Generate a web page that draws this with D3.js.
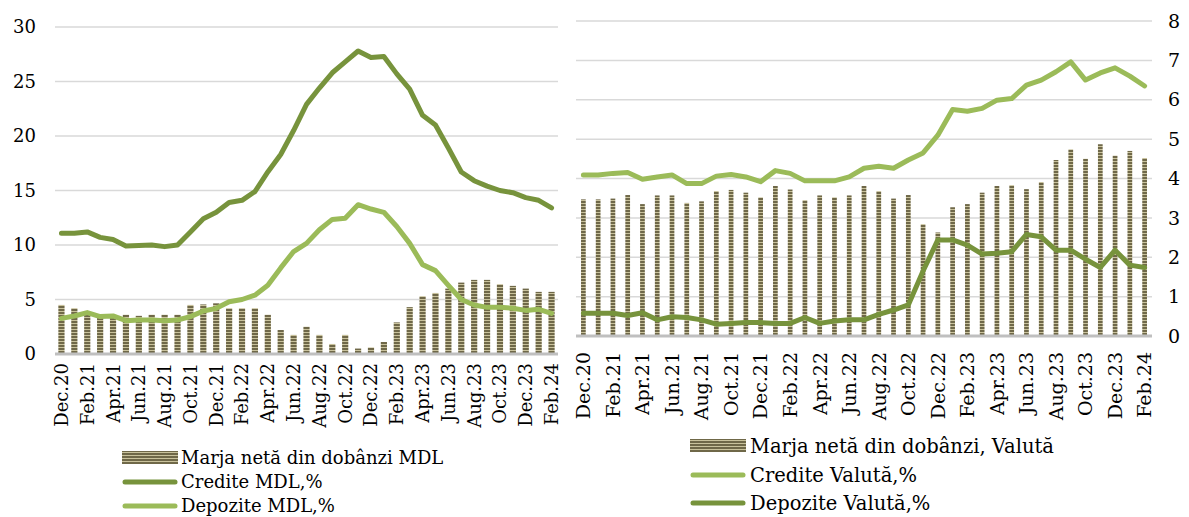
<!DOCTYPE html>
<html><head><meta charset="utf-8">
<script src="https://cdn.jsdelivr.net/npm/d3@7"></script>
<style>body{margin:0;background:#fff}svg{display:block}text{font-family:"DejaVu Serif",serif;fill:#000}</style>
</head><body><svg id="c" width="1189" height="517"></svg>
<script>
const months = ["Dec.20","Jan.21","Feb.21","Mar.21","Apr.21","May.21","Jun.21","Jul.21","Aug.21","Sep.21","Oct.21","Nov.21","Dec.21","Jan.22","Feb.22","Mar.22","Apr.22","May.22","Jun.22","Jul.22","Aug.22","Sep.22","Oct.22","Nov.22","Dec.22","Jan.23","Feb.23","Mar.23","Apr.23","May.23","Jun.23","Jul.23","Aug.23","Sep.23","Oct.23","Nov.23","Dec.23","Jan.24","Feb.24"];
const tickLabels = months.filter((d,i)=>i%2===0);
const marjaMDL = [4.5,4.2,3.6,3.3,3.4,3.6,3.5,3.6,3.6,3.6,4.5,4.55,4.65,4.2,4.2,4.2,3.6,2.2,1.75,2.5,1.75,0.92,1.75,0.5,0.6,1.1,2.9,4.3,5.3,5.6,6.0,6.55,6.8,6.8,6.4,6.25,6.0,5.7,5.7];
const crediteMDL = [11.07,11.07,11.2,10.7,10.5,9.9,9.95,10.0,9.85,10.0,11.2,12.4,13.0,13.9,14.1,14.9,16.7,18.3,20.5,22.9,24.4,25.8,26.8,27.8,27.2,27.3,25.7,24.3,21.9,21.0,18.9,16.7,15.9,15.4,15.0,14.8,14.35,14.1,13.4];
const depoziteMDL = [3.27,3.49,3.8,3.43,3.49,3.06,3.12,3.12,3.06,3.12,3.43,3.95,4.19,4.8,5.0,5.4,6.3,7.9,9.4,10.15,11.4,12.35,12.45,13.7,13.3,13.0,11.7,10.15,8.2,7.65,6.3,5.0,4.5,4.28,4.28,4.19,4.0,4.1,3.73];
const marjaVal = [3.47,3.47,3.49,3.58,3.35,3.57,3.57,3.38,3.42,3.68,3.71,3.64,3.52,3.81,3.72,3.45,3.57,3.52,3.57,3.81,3.68,3.49,3.58,2.84,2.63,3.27,3.35,3.64,3.81,3.83,3.73,3.91,4.47,4.74,4.5,4.87,4.58,4.7,4.52];
const crediteVal = [4.09,4.09,4.13,4.15,3.98,4.04,4.09,3.87,3.87,4.06,4.1,4.04,3.92,4.2,4.13,3.94,3.94,3.94,4.04,4.26,4.31,4.26,4.47,4.65,5.1,5.75,5.71,5.78,5.99,6.03,6.37,6.5,6.71,6.96,6.5,6.68,6.81,6.6,6.35];
const depoziteVal = [0.58,0.58,0.58,0.52,0.59,0.41,0.49,0.47,0.41,0.3,0.32,0.34,0.34,0.32,0.32,0.47,0.32,0.38,0.41,0.41,0.55,0.66,0.79,1.65,2.44,2.44,2.31,2.08,2.1,2.14,2.58,2.52,2.18,2.18,1.95,1.74,2.18,1.8,1.74];
const leftTicks = [0,5,10,15,20,25,30];
const rightTicks = [0,1,2,3,4,5,6,7,8];

const DARK = "#77933c", LIGHT = "#9bbb59";
const svg = d3.select("#c");
const defs = svg.append("defs");
const pat = defs.append("pattern").attr("id","stripes").attr("patternUnits","userSpaceOnUse").attr("width",6).attr("height",3);
pat.append("rect").attr("width",6).attr("height",3).attr("fill","#c9c29c");
pat.append("rect").attr("width",6).attr("height",2).attr("fill","#6f6848");

function panel(opt){
  const x = d3.scaleBand().domain(months).range([opt.x0,opt.x1]).paddingInner(opt.pad).paddingOuter(opt.pad/2);
  const y = d3.scaleLinear().domain(opt.ydom).range([opt.y0,opt.y1]);
  const g = svg.append("g");
  g.selectAll(".grid").data(opt.ticks.filter(t=>t>0)).join("line")
    .attr("x1",opt.x0).attr("x2",opt.x1).attr("y1",d=>y(d)).attr("y2",d=>y(d))
    .attr("stroke","#d9d9d9").attr("stroke-width",1.5);
  g.selectAll(".bar").data(opt.bars).join("rect")
    .attr("x",(d,i)=>x(months[i])).attr("width",x.bandwidth())
    .attr("y",d=>y(d)).attr("height",d=>y(0)-y(d)).attr("fill","url(#stripes)");
  g.append("line").attr("x1",opt.x0).attr("x2",opt.x1).attr("y1",y(0)).attr("y2",y(0)).attr("stroke","#bfbfbf").attr("stroke-width",3);
  const line = d3.line().x((d,i)=>x(months[i])+x.bandwidth()/2).y(d=>y(d));
  opt.lines.forEach(l=>{
    g.append("path").attr("d",line(l.data)).attr("fill","none").attr("stroke",l.color)
      .attr("stroke-width",5).attr("stroke-linejoin","round").attr("stroke-linecap","round");
  });
  // y axis labels
  g.selectAll(".yl").data(opt.ticks).join("text")
    .attr("x",opt.ylx).attr("y",d=>y(d)).attr("dy","0.35em")
    .attr("text-anchor",opt.yanchor).style("font-size",opt.yfs+"px").text(d=>d);
  // x labels
  g.selectAll(".xl").data(tickLabels).join("text")
    .attr("transform",d=>`translate(${x(d)+x.bandwidth()/2},${opt.xly}) rotate(-90)`)
    .attr("dy","0.36em").attr("text-anchor","end").style("font-size",opt.xfs+"px").text(d=>d);
  // legend
  opt.legend.forEach((L,k)=>{
    const ly = opt.leg.y[k];
    if(L.type==="bar"){
      g.append("rect").attr("x",opt.leg.sx).attr("y",ly-7).attr("width",opt.leg.sw).attr("height",13).attr("fill","url(#stripes)");
    } else {
      g.append("line").attr("x1",opt.leg.sx+3).attr("x2",opt.leg.sx+opt.leg.sw-3).attr("y1",ly).attr("y2",ly)
        .attr("stroke",L.color).attr("stroke-width",5).attr("stroke-linecap","round");
    }
    g.append("text").attr("x",opt.leg.tx).attr("y",ly).attr("dy","0.35em").style("font-size",opt.lfs+"px").text(L.label);
  });
}

panel({x0:55,x1:558,y0:354,y1:27,ydom:[0,30],pad:0.52,ticks:leftTicks,bars:marjaMDL,
  lines:[{data:crediteMDL,color:DARK},{data:depoziteMDL,color:LIGHT}],
  ylx:36,yanchor:"end",yfs:18,xly:363,xfs:18,lfs:18,
  leg:{sx:122,sw:56,tx:181,y:[458,482,506]},
  legend:[{type:"bar",label:"Marja netă din dobânzi MDL"},{type:"line",color:DARK,label:"Credite MDL,%"},{type:"line",color:LIGHT,label:"Depozite MDL,%"}]});

panel({x0:576,x1:1152,y0:336,y1:21,ydom:[0,8],pad:0.68,ticks:rightTicks,bars:marjaVal,
  lines:[{data:crediteVal,color:LIGHT},{data:depoziteVal,color:DARK}],
  ylx:1168,yanchor:"start",yfs:19,xly:352,xfs:19,lfs:19.5,
  leg:{sx:690,sw:56,tx:750,y:[446,475,503]},
  legend:[{type:"bar",label:"Marja netă din dobânzi, Valută"},{type:"line",color:LIGHT,label:"Credite Valută,%"},{type:"line",color:DARK,label:"Depozite Valută,%"}]});
</script></body></html>
